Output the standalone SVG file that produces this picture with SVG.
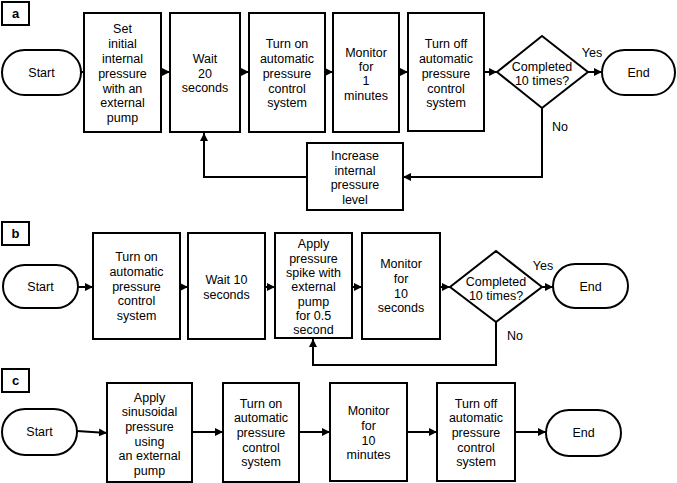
<svg xmlns="http://www.w3.org/2000/svg" width="677" height="483" viewBox="0 0 677 483">
<style>
.b{fill:#fff;stroke:#000;stroke-width:2}
.t{font-family:"Liberation Sans",Arial,sans-serif;font-size:12.5px;text-anchor:middle;fill:#000}
.l{font-family:"Liberation Sans",Arial,sans-serif;font-size:13px;font-weight:bold;text-anchor:middle;fill:#000}
.c{fill:none;stroke:#000;stroke-width:2}
</style>
<defs>
<marker id="ah" markerUnits="userSpaceOnUse" markerWidth="8" markerHeight="8" refX="8" refY="4" orient="auto">
<path d="M0,0 L8,4 L0,8 z" fill="#000"/>
</marker>
</defs>
<rect width="677" height="483" fill="#fff"/>

<g id="panel-labels">
<rect class="b" x="2" y="2" width="27" height="23"/><text class="l" x="15.5" y="18">a</text>
<rect class="b" x="2" y="222" width="27" height="23"/><text class="l" x="15.5" y="238">b</text>
<rect class="b" x="2" y="369" width="27" height="23"/><text class="l" x="15.5" y="385">c</text>
</g>

<g id="connectors">
<path class="c" marker-end="url(#ah)" d="M79,72 L84,72"/>
<path class="c" marker-end="url(#ah)" d="M161,72 L170,72"/>
<path class="c" marker-end="url(#ah)" d="M240,72 L249,72"/>
<path class="c" marker-end="url(#ah)" d="M325,72 L333,72"/>
<path class="c" marker-end="url(#ah)" d="M399,72 L408,72"/>
<path class="c" marker-end="url(#ah)" d="M484,72 L497,72"/>
<path class="c" marker-end="url(#ah)" d="M588,72 L602,72"/>
<path class="c" marker-end="url(#ah)" d="M542,108 L542,177 L403,177"/>
<path class="c" marker-end="url(#ah)" d="M307,177 L204,177 L204,133"/>

<path class="c" marker-end="url(#ah)" d="M78,287 L93,287"/>
<path class="c" marker-end="url(#ah)" d="M180,287 L188,287"/>
<path class="c" marker-end="url(#ah)" d="M265,287 L275,287"/>
<path class="c" marker-end="url(#ah)" d="M352,287 L362,287"/>
<path class="c" marker-end="url(#ah)" d="M440,287 L450,287"/>
<path class="c" marker-end="url(#ah)" d="M542,287 L553,287"/>
<path class="c" marker-end="url(#ah)" d="M496,322 L496,365 L313,365 L313,339"/>

<path class="c" marker-end="url(#ah)" d="M77,431 L107,433"/>
<path class="c" marker-end="url(#ah)" d="M192,432 L223,432"/>
<path class="c" marker-end="url(#ah)" d="M299,432 L330,432"/>
<path class="c" marker-end="url(#ah)" d="M407,432 L437,432"/>
<path class="c" marker-end="url(#ah)" d="M515,432 L546,432"/>
</g>

<g id="a-start"><rect class="b" x="2" y="50" width="79" height="45" rx="22.5"/><text class="t" x="41.5" y="77">Start</text></g>
<g id="a-set"><rect class="b" x="84" y="13" width="77" height="119"/>
<text class="t" x="122.5" y="32.5">Set</text><text class="t" x="122.5" y="47.5">initial</text><text class="t" x="122.5" y="62.5">internal</text><text class="t" x="122.5" y="77.5">pressure</text><text class="t" x="122.5" y="92.5">with an</text><text class="t" x="122.5" y="106.5">external</text><text class="t" x="122.5" y="121.5">pump</text></g>
<g id="a-wait"><rect class="b" x="170" y="13" width="70" height="119"/>
<text class="t" x="205" y="62.5">Wait</text><text class="t" x="205" y="77.5">20</text><text class="t" x="205" y="91.5">seconds</text></g>
<g id="a-turnon"><rect class="b" x="249" y="13" width="76" height="119"/>
<text class="t" x="287" y="47.5">Turn on</text><text class="t" x="287" y="62.5">automatic</text><text class="t" x="287" y="77.5">pressure</text><text class="t" x="287" y="92.5">control</text><text class="t" x="287" y="106.5">system</text></g>
<g id="a-monitor"><rect class="b" x="333" y="13" width="66" height="119"/>
<text class="t" x="366" y="56.5">Monitor</text><text class="t" x="366" y="70.5">for</text><text class="t" x="366" y="84.5">1</text><text class="t" x="366" y="99.5">minutes</text></g>
<g id="a-turnoff"><rect class="b" x="408" y="13" width="76" height="118"/>
<text class="t" x="446" y="47.5">Turn off</text><text class="t" x="446" y="62.5">automatic</text><text class="t" x="446" y="77.5">pressure</text><text class="t" x="446" y="92.5">control</text><text class="t" x="446" y="106.5">system</text></g>
<g id="a-decision"><polygon class="b" points="542,36 588,72 542,108 497,72"/>
<text class="t" x="542" y="70.5">Completed</text><text class="t" x="542" y="84.5">10 times?</text></g>
<g id="a-end"><rect class="b" x="602" y="50" width="73" height="45" rx="22.5"/><text class="t" x="638.5" y="77">End</text></g>
<g id="a-increase"><rect class="b" x="307" y="143" width="96" height="67"/>
<text class="t" x="355" y="159.5">Increase</text><text class="t" x="355" y="174.5">internal</text><text class="t" x="355" y="188.5">pressure</text><text class="t" x="355" y="203.5">level</text></g>
<g id="a-labels"><text class="t" x="592" y="56.5">Yes</text><text class="t" x="560" y="130.5">No</text></g>

<g id="b-start"><rect class="b" x="3" y="265" width="75" height="43" rx="21.5"/><text class="t" x="40.5" y="291">Start</text></g>
<g id="b-turnon"><rect class="b" x="93" y="233" width="87" height="106"/>
<text class="t" x="136.5" y="260.5">Turn on</text><text class="t" x="136.5" y="275.5">automatic</text><text class="t" x="136.5" y="290.5">pressure</text><text class="t" x="136.5" y="305">control</text><text class="t" x="136.5" y="320">system</text></g>
<g id="b-wait"><rect class="b" x="188" y="233" width="77" height="106"/>
<text class="t" x="226.5" y="283.5">Wait 10</text><text class="t" x="226.5" y="298.5">seconds</text></g>
<g id="b-apply"><rect class="b" x="275" y="233" width="77" height="105"/>
<text class="t" x="313.5" y="247.5">Apply</text><text class="t" x="313.5" y="262.5">pressure</text><text class="t" x="313.5" y="276.5">spike with</text><text class="t" x="313.5" y="290.5">external</text><text class="t" x="313.5" y="305.5">pump</text><text class="t" x="313.5" y="320">for 0.5</text><text class="t" x="313.5" y="334">second</text></g>
<g id="b-monitor"><rect class="b" x="362" y="233" width="78" height="106"/>
<text class="t" x="401" y="267.5">Monitor</text><text class="t" x="401" y="283">for</text><text class="t" x="401" y="297.5">10</text><text class="t" x="401" y="312">seconds</text></g>
<g id="b-decision"><polygon class="b" points="496,251 542,287 496,322 450,287"/>
<text class="t" x="496" y="285.5">Completed</text><text class="t" x="496" y="299.5">10 times?</text></g>
<g id="b-end"><rect class="b" x="553" y="264" width="75" height="44" rx="22"/><text class="t" x="590.5" y="291">End</text></g>
<g id="b-labels"><text class="t" x="543" y="269.5">Yes</text><text class="t" x="515" y="339.5">No</text></g>

<g id="c-start"><rect class="b" x="2" y="409" width="75" height="46" rx="23"/><text class="t" x="39.5" y="436">Start</text></g>
<g id="c-apply"><rect class="b" x="107" y="383" width="85" height="99"/>
<text class="t" x="149.5" y="401.5">Apply</text><text class="t" x="149.5" y="416">sinusoidal</text><text class="t" x="149.5" y="430.5">pressure</text><text class="t" x="149.5" y="445.5">using</text><text class="t" x="149.5" y="460">an external</text><text class="t" x="149.5" y="474.5">pump</text></g>
<g id="c-turnon"><rect class="b" x="223" y="383" width="76" height="99"/>
<text class="t" x="261" y="407.5">Turn on</text><text class="t" x="261" y="422">automatic</text><text class="t" x="261" y="436.5">pressure</text><text class="t" x="261" y="451.5">control</text><text class="t" x="261" y="466">system</text></g>
<g id="c-monitor"><rect class="b" x="330" y="383" width="77" height="98"/>
<text class="t" x="368.5" y="415">Monitor</text><text class="t" x="368.5" y="430">for</text><text class="t" x="368.5" y="444.5">10</text><text class="t" x="368.5" y="459">minutes</text></g>
<g id="c-turnoff"><rect class="b" x="437" y="383" width="78" height="98"/>
<text class="t" x="476" y="407.5">Turn off</text><text class="t" x="476" y="422">automatic</text><text class="t" x="476" y="436.5">pressure</text><text class="t" x="476" y="451.5">control</text><text class="t" x="476" y="466">system</text></g>
<g id="c-end"><rect class="b" x="546" y="410" width="75" height="46" rx="23"/><text class="t" x="583.5" y="437">End</text></g>
</svg>
